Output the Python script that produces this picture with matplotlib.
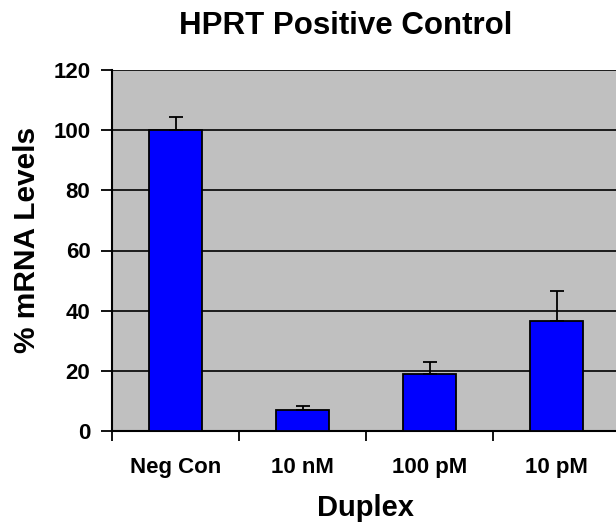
import matplotlib
matplotlib.use("Agg")
import matplotlib.pyplot as plt
import numpy as np

plt.rcParams['font.family'] = ['Liberation Sans', 'DejaVu Sans']

categories = ["Neg Con", "10 nM", "100 pM", "10 pM"]
values = [100, 7, 19, 36.7]
errors = [4.4, 1.3, 4, 9.8]
yticks = [0, 20, 40, 60, 80, 100, 120]

W, H = 616, 523
fig = plt.figure(figsize=(W/100, H/100), dpi=100)
ax = fig.add_axes([112/W, 92/H, 508/W, 361/H])
ax.set_facecolor('#c0c0c0')

x = np.arange(len(categories)) + 0.5
ax.bar(x, values, width=0.41, color='#0000ff', edgecolor='black', linewidth=1.3, zorder=3)
ax.errorbar(x, values, yerr=[np.zeros(len(errors)), errors], fmt='none', ecolor='black',
            elinewidth=1.3, capsize=5, capthick=1.3, zorder=4)

ax.set_xlim(0, 4)
ax.set_ylim(0, 120)
ax.set_yticks(yticks)
ax.set_yticklabels([str(v) for v in yticks], fontsize=16, fontweight='bold')
for v in yticks[1:]:
    ax.axhline(v, color='black', linewidth=1.2, zorder=1)

ax.set_xticks(x)
ax.set_xticklabels(categories, fontsize=16, fontweight='bold')
ax.tick_params(axis='x', which='major', length=0, pad=19)
ax.set_xticks(np.arange(0, 5), minor=True)
ax.tick_params(axis='x', which='minor', length=7, width=1.3, direction='out')
ax.tick_params(axis='y', length=8, width=1.3, direction='out', pad=7.5)

for s in ['top', 'right']:
    ax.spines[s].set_visible(False)
ax.spines['left'].set_linewidth(1.5)
ax.spines['bottom'].set_linewidth(1.5)

fig.text(366/W, 1 - 516/H, "Duplex", ha='center', va='baseline',
         fontsize=21, fontweight='bold')
fig.text(27/W, 1 - 240/H, "% mRNA Levels", ha='center', va='center', rotation=90,
         fontsize=21.5, fontweight='bold')
fig.text(346/W, 1 - 34/H, "HPRT Positive Control", ha='center', va='baseline',
         fontsize=22.5, fontweight='bold')

fig.savefig("out.png", dpi=100, facecolor='white')
